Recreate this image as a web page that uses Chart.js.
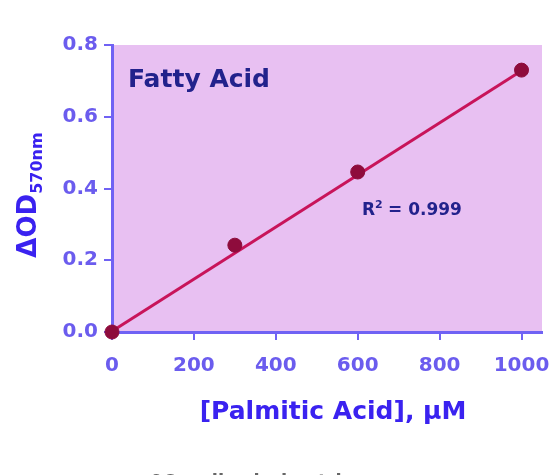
<!DOCTYPE html>
<html>
<head>
<meta charset="utf-8">
<script src="https://cdn.jsdelivr.net/npm/chart.js@4.4.1/dist/chart.umd.min.js"></script>
<style>
  html, body { margin: 0; padding: 0; background: #fff; }
  #wrap { width: 550px; height: 475px; }
</style>
</head>
<body>
<div id="wrap"><canvas id="fattyAcidChart" width="550" height="475"></canvas></div>
<script>
// values
const concentrations = [0, 300, 600, 1000];
const odValues = [0.0, 0.242, 0.446, 0.730];
const fitX = [0, 1000];
const fitY = [0.002, 0.728];
const xTicks = [0, 200, 400, 600, 800, 1000];
const yTicks = [0.0, 0.2, 0.4, 0.6, 0.8];

const axisBlue = '#7062f4';
const labelBlue = '#6b5cee';
const titleBlue = '#3a22f0';
const navy = '#22228c';
const FONT = '"DejaVu Sans", Verdana, sans-serif';

const pointData = concentrations.map((c, i) => ({ x: c, y: odValues[i] }));
const fitData = fitX.map((c, i) => ({ x: c, y: fitY[i] }));

// purple plot background + the hand-placed texts
const decorations = {
    id: 'decorations',
    beforeDraw(chart) {
        const { ctx, chartArea } = chart;
        ctx.save();
        ctx.fillStyle = '#e8c0f2';
        ctx.fillRect(chartArea.left, chartArea.top, chartArea.right - chartArea.left, chartArea.bottom - chartArea.top);
        ctx.restore();
    },
    afterDraw(chart) {
        const { ctx, chartArea } = chart;
        ctx.save();

        // panel label
        ctx.fillStyle = navy;
        ctx.font = 'bold 25px ' + FONT;
        ctx.textBaseline = 'middle';
        ctx.textAlign = 'left';
        ctx.fillText('Fatty Acid', chartArea.left + 16, 80);

        // r squared
        ctx.font = 'bold 17px ' + FONT;
        ctx.fillText('R', 362, 211);
        let w = ctx.measureText('R').width;
        ctx.font = 'bold 11px ' + FONT;
        ctx.fillText('2', 362 + w, 205);
        ctx.font = 'bold 17px ' + FONT;
        ctx.fillText(' = 0.999', 369 + w, 211);

        // x axis title
        ctx.fillStyle = titleBlue;
        ctx.font = 'bold 25px ' + FONT;
        ctx.textAlign = 'center';
        ctx.fillText('[Palmitic Acid], \u00B5M', 333, 412);

        // y axis title with subscript, rotated
        ctx.translate(29, 195);
        ctx.rotate(-Math.PI / 2);
        ctx.textAlign = 'left';
        const main = '\u0394OD';
        ctx.font = 'bold 26px ' + FONT;
        const mw = ctx.measureText(main).width;
        ctx.font = 'bold 16px ' + FONT;
        const sw = ctx.measureText('570nm').width;
        const start = -(mw + sw) / 2;
        ctx.font = 'bold 26px ' + FONT;
        ctx.fillText(main, start, 0);
        ctx.font = 'bold 16px ' + FONT;
        ctx.fillText('570nm', start + mw, 9);
        ctx.restore();

        // caption, mostly cut off by the bottom edge
        ctx.save();
        ctx.fillStyle = '#666';
        ctx.font = 'bold 18px ' + FONT;
        ctx.textAlign = 'center';
        ctx.textBaseline = 'top';
        ctx.fillText('96-well colorimetric assay', 283, 473);
        ctx.restore();
    }
};

const ctx = document.getElementById('fattyAcidChart').getContext('2d');
new Chart(ctx, {
    type: 'scatter',
    data: {
        datasets: [
            {
                label: 'fit',
                data: fitData,
                showLine: true,
                borderColor: '#c8145a',
                borderWidth: 3,
                pointRadius: 0,
                clip: false,
                order: 2
            },
            {
                label: 'Palmitic Acid',
                data: pointData,
                backgroundColor: '#8e0c3c',
                borderColor: '#8e0c3c',
                pointRadius: 7,
                clip: false,
                order: 1
            }
        ]
    },
    options: {
        responsive: false,
        animation: false,
        devicePixelRatio: 1,
        layout: { padding: { top: 45, right: 7, left: 0, bottom: 0 } },
        plugins: {
            legend: { display: false },
            tooltip: { enabled: false }
        },
        scales: {
            x: {
                type: 'linear',
                min: 0,
                max: 1050,
                afterFit(scale) {
                    scale.height = 143;
                    // let the "1000" label run off the right edge like the original
                    scale.paddingLeft = 0;
                    scale.paddingRight = 0;
                },
                afterBuildTicks(scale) { scale.ticks = xTicks.map(v => ({ value: v })); },
                border: { color: axisBlue, width: 3 },
                grid: { drawOnChartArea: false, drawTicks: true, tickLength: 8, color: axisBlue, lineWidth: 2 },
                ticks: {
                    color: labelBlue,
                    padding: 14,
                    maxRotation: 0,
                    font: { family: FONT, size: 20, weight: 'bold' },
                    callback: v => String(v)
                }
            },
            y: {
                type: 'linear',
                min: 0,
                max: 0.8,
                afterFit(scale) {
                    scale.width = 112;
                    scale.paddingTop = 0;
                    scale.paddingBottom = 0;
                },
                afterBuildTicks(scale) { scale.ticks = yTicks.map(v => ({ value: v })); },
                border: { color: axisBlue, width: 3 },
                grid: { drawOnChartArea: false, drawTicks: true, tickLength: 8, color: axisBlue, lineWidth: 2 },
                ticks: {
                    color: labelBlue,
                    padding: 6,
                    font: { family: FONT, size: 20, weight: 'bold' },
                    callback: v => v.toFixed(1)
                }
            }
        }
    },
    plugins: [decorations]
});
</script>
</body>
</html>
